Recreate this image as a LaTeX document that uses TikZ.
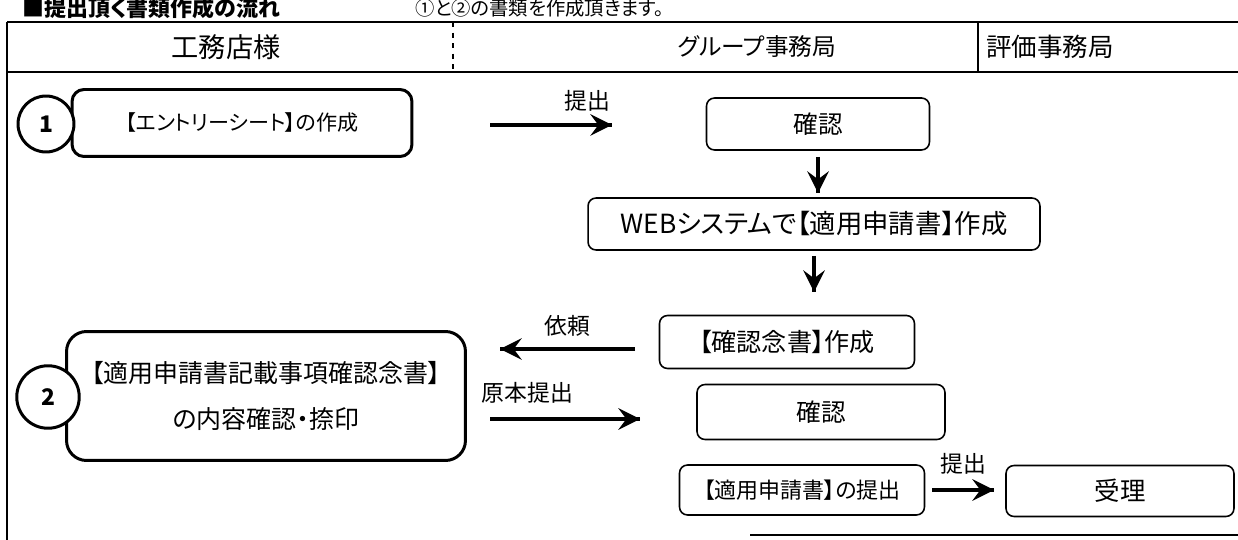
\documentclass[tikz,border=0pt]{standalone}
\usepackage{fontspec}
\setmainfont{Noto Sans CJK JP}[RawFeature=+palt]
\usetikzlibrary{decorations.markings}
\tikzset{flow/.style = {line width = 1.8pt, decoration={markings, mark=at position 1 with {\arrow[scale=1.9]{stealth}}}, postaction={decorate}}}
\tikzset{bigbox/.style = {draw, line width = 1.7pt, rounded corners = 0.24cm, font = \fontsize{13}{17}\selectfont}}
\tikzset{smallbox/.style = {draw, line width = 0.9pt, rounded corners = 0.16cm, font = \fontsize{13}{17}\selectfont}}
\tikzset{num/.style = {draw, circle, fill = white, line width = 1.7pt, inner sep = 0, font = \bfseries\fontsize{13}{15}\selectfont}}
\tikzset{lbl/.style = {font = \fontsize{13}{15}\selectfont, inner sep = 2pt}}

\begin{document}
\begin{tikzpicture}[x = 0.02cm, y = -0.02cm]
    \useasboundingbox (0, 0) rectangle (1238, 540);
    \node [anchor = base west, inner sep = 0, font = \bfseries\fontsize{12.5}{14}\selectfont] (title) at (22, 17) {■提出頂く書類作成の流れ};
    \node [anchor = base west, inner sep = 0, font = \fontsize{11}{13}\selectfont] (note) at (415, 16) {①と②の書類を作成頂きます。};
    % header
    \draw [line width = 1.4pt] (7, 22) -- (1238, 22);
    \draw [line width = 1.4pt] (7, 72) -- (1238, 72);
    \draw [line width = 1.1pt] (7, 22) -- (7, 540);
    \draw [dashed, line width = 0.6pt] (453, 22) -- (453, 72);
    \draw [line width = 0.8pt] (978, 22) -- (978, 72);
    \draw [line width = 1.4pt] (750, 535) -- (1238, 535);
    \node [lbl, font = \fontsize{15.5}{17}\selectfont] (shop) at (226, 47) {工務店様};
    \node [lbl, font = \fontsize{13.5}{17}\selectfont] (group) at (757, 47) {グループ事務局};
    \node [lbl, font = \fontsize{14.5}{17}\selectfont] (eval) at (1050, 47) {評価事務局};
    % boxes
    \node [bigbox, font = \fontsize{12}{15}\selectfont, minimum width = 6.8cm, minimum height = 1.34cm] (entry) at (242, 123) {【エントリーシート】の作成};
    \node [smallbox, font = \fontsize{14}{17}\selectfont, minimum width = 4.46cm, minimum height = 1.04cm] (chk1) at (818, 124) {確認};
    \node [smallbox, font = \fontsize{15}{17}\selectfont, minimum width = 9.04cm, minimum height = 1.04cm] (web) at (814, 224) {WEBシステムで【適用申請書】作成};
    \node [smallbox, font = \fontsize{14.3}{17}\selectfont, minimum width = 5.1cm, minimum height = 1.06cm] (memo) at (787, 342) {【確認念書】作成};
    \node [bigbox, font = \fontsize{14.2}{17}\selectfont, rounded corners = 0.4cm, align = center, minimum width = 7.98cm, minimum height = 2.58cm] (seal) at (266, 396) {【適用申請書記載事項確認念書】\\[9pt]の内容確認・捺印};
    \node [smallbox, font = \fontsize{14}{17}\selectfont, minimum width = 4.96cm, minimum height = 1.1cm] (chk2) at (821, 412) {確認};
    \node [smallbox, font = \fontsize{12.5}{17}\selectfont, minimum width = 4.9cm, minimum height = 1.0cm] (send) at (802, 490) {【適用申請書】の提出};
    \node [smallbox, font = \fontsize{14.5}{17}\selectfont, minimum width = 4.56cm, minimum height = 1.02cm] (recv) at (1120, 491) {受理};
    \node [num, minimum size = 1.12cm] (one) at (46, 124) {1};
    \node [num, minimum size = 1.25cm] (two) at (48, 397) {2};
    % arrows
    \coordinate (a1) at (490, 125);
    \coordinate (b1) at (612, 125);
    \draw [flow] (a1) -- (b1) node [lbl, pos = 0.8, above = 5pt] {提出};
    \coordinate (a2) at (818, 157);
    \coordinate (b2) at (818, 193);
    \draw [flow] (a2) -- (b2);
    \coordinate (a3) at (814, 256);
    \coordinate (b3) at (814, 292);
    \draw [flow] (a3) -- (b3);
    \coordinate (a4) at (635, 349);
    \coordinate (b4) at (500, 349);
    \draw [flow] (a4) -- (b4) node [lbl, midway, above = 4pt] {依頼};
    \coordinate (a5) at (490, 419);
    \coordinate (b5) at (640, 419);
    \draw [flow] (a5) -- (b5) node [lbl, pos = 0.25, above = 6pt] {原本提出};
    \coordinate (a6) at (932, 490);
    \coordinate (b6) at (994, 490);
    \draw [flow] (a6) -- (b6) node [lbl, midway, above = 6pt] {提出};
\end{tikzpicture}
\end{document}
